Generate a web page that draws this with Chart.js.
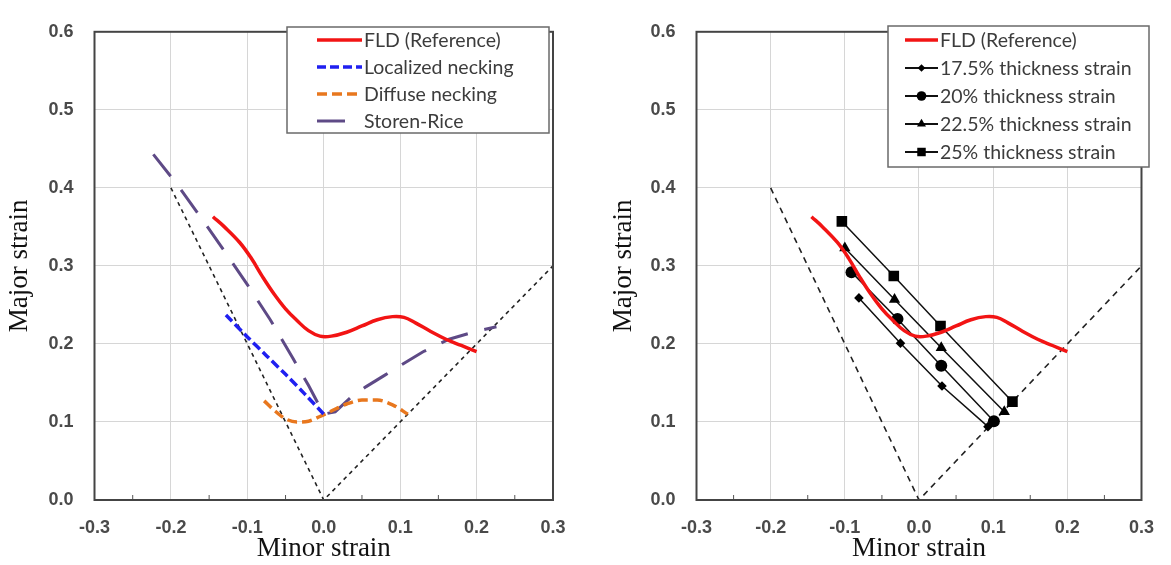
<!DOCTYPE html>
<html>
<head>
<meta charset="utf-8">
<script src="https://cdn.jsdelivr.net/npm/chart.js@4.4.1/dist/chart.umd.min.js"></script>
<style>
  body { margin: 0; background: #fff; }
  .box { position: absolute; top: 0; height: 565px; }
  #left { left: 0; width: 585px; }
  #right { left: 602px; width: 569px; }
</style>
</head>
<body>
<div class="box" id="left"><canvas id="chartL" width="585" height="565"></canvas></div>
<div class="box" id="right"><canvas id="chartR" width="569" height="565"></canvas></div>
<script>
// FLD reference curve (both panels)
const fldX = [-0.145, -0.13, -0.11, -0.095, -0.08, -0.065, -0.05, -0.035, -0.02, -0.005, 0.01, 0.03, 0.05, 0.07, 0.09, 0.105, 0.12, 0.14, 0.16, 0.18, 0.2]
const fldY = [0.363, 0.35, 0.33, 0.31, 0.286, 0.264, 0.245, 0.23, 0.217, 0.21, 0.21, 0.215, 0.223, 0.231, 0.235, 0.234, 0.227, 0.216, 0.206, 0.198, 0.19]

// left panel
const locX = [-0.128, -0.1, -0.075, -0.05, -0.025, 0.0]
const locY = [0.237, 0.209, 0.185, 0.161, 0.136, 0.11]
const difX = [-0.078, -0.065, -0.05, -0.035, -0.02, -0.005, 0.01, 0.03, 0.05, 0.07, 0.09, 0.11]
const difY = [0.127, 0.115, 0.104, 0.1, 0.101, 0.107, 0.114, 0.123, 0.128, 0.128, 0.122, 0.11]
const srX = [-0.223, -0.19, -0.16, -0.13, -0.1, -0.07, -0.04, -0.02, 0.0, 0.015, 0.035, 0.055, 0.08, 0.103, 0.13, 0.164, 0.195, 0.226]
const srY = [0.443, 0.402, 0.361, 0.319, 0.276, 0.231, 0.181, 0.147, 0.11, 0.113, 0.131, 0.145, 0.16, 0.174, 0.19, 0.206, 0.215, 0.222]

// right panel, thickness strain criteria
const t175X = [-0.081, -0.025, 0.031, 0.093]
const t175Y = [0.259, 0.201, 0.146, 0.094]
const t20X = [-0.091, -0.029, 0.03, 0.101]
const t20Y = [0.292, 0.232, 0.172, 0.101]
const t225X = [-0.1, -0.033, 0.03, 0.115]
const t225Y = [0.323, 0.257, 0.195, 0.113]
const t25X = [-0.104, -0.034, 0.029, 0.126]
const t25Y = [0.357, 0.287, 0.223, 0.126]

// dashed guide lines (uniaxial / plane strain / biaxial)
const guideX = [-0.2, 0.0, 0.3]
const guideY = [0.4, 0.0, 0.3]

const minorTicks = [-0.25, -0.15, -0.05, 0.05, 0.15, 0.25]

const pts = (xs, ys) => xs.map((x, i) => ({x: x, y: ys[i]}))
const fmt = v => Math.abs(v) < 1e-9 ? '0.0' : v.toFixed(1)

const tickFont = {family: "'Liberation Sans', Arial", size: 18, weight: 'bold'}
const titleFont = {family: "'Liberation Serif', 'Times New Roman'", size: 27, lineHeight: 1}

function scales(yTitlePad) {
  return {
    x: {
      type: 'linear', min: -0.3, max: 0.3,
      ticks: {stepSize: 0.1, padding: 17, color: '#4a4a4a', font: tickFont, callback: fmt},
      grid: {color: '#d6d6d6', drawTicks: false},
      border: {display: false},
      title: {display: true, text: 'Minor strain', color: '#111', font: titleFont, padding: {top: 0, bottom: 3}},
      afterFit: s => { s.height = 65 }
    },
    y: {
      min: 0, max: 0.6,
      ticks: {stepSize: 0.1, padding: 21, color: '#4a4a4a', font: tickFont, callback: fmt},
      grid: {color: '#d6d6d6', drawTicks: false},
      border: {display: false},
      title: {display: true, text: 'Major strain', color: '#111', font: titleFont, padding: {top: yTitlePad, bottom: 0}},
      afterFit: s => { s.width = 94.5 }
    }
  }
}

function drawMarker(ctx, style, x, y, r) {
  ctx.beginPath()
  if (style === 'circle') {
    ctx.arc(x, y, r, 0, Math.PI * 2)
  } else if (style === 'rect') {
    const h = r * Math.SQRT1_2
    ctx.rect(x - h, y - h, 2 * h, 2 * h)
  } else if (style === 'rectRot') {
    ctx.moveTo(x, y - r); ctx.lineTo(x + r, y); ctx.lineTo(x, y + r); ctx.lineTo(x - r, y); ctx.closePath()
  } else if (style === 'triangle') {
    ctx.moveTo(x, y - r); ctx.lineTo(x + r * 0.866, y + r * 0.5); ctx.lineTo(x - r * 0.866, y + r * 0.5); ctx.closePath()
  }
  ctx.fill()
}

// plot frame + small minor ticks on the minor-strain axis
const framePlugin = {
  id: 'frame',
  afterDatasetsDraw(chart) {
    const {ctx, chartArea: a} = chart
    const x = chart.scales.x
    ctx.save()
    ctx.strokeStyle = '#555'
    ctx.lineWidth = 1
    minorTicks.forEach(v => {
      const px = x.getPixelForValue(v)
      ctx.beginPath(); ctx.moveTo(px, a.bottom); ctx.lineTo(px, a.bottom - 5); ctx.stroke()
    })
    ctx.strokeStyle = '#444'
    ctx.lineWidth = 2
    ctx.strokeRect(a.left, a.top, a.right - a.left, a.bottom - a.top)
    ctx.restore()
  }
}

// boxed legend inside the plot, like the excel one
const boxLegend = {
  id: 'boxLegend',
  afterDraw(chart, args, o) {
    const ctx = chart.ctx
    ctx.save()
    ctx.fillStyle = '#fff'
    ctx.fillRect(o.left, o.top, o.width, o.height)
    ctx.strokeStyle = '#6a6a6a'
    ctx.lineWidth = 1.5
    ctx.strokeRect(o.left, o.top, o.width, o.height)
    ctx.font = o.font
    ctx.textBaseline = 'middle'
    let row = 0
    chart.data.datasets.forEach(ds => {
      if (!ds.label) return
      const y = o.firstRow + row * o.rowHeight
      ctx.strokeStyle = ds.borderColor
      ctx.lineWidth = Math.max(ds.borderWidth, 2)
      ctx.setLineDash(ds.borderDash || [])
      ctx.beginPath(); ctx.moveTo(o.lineStart, y); ctx.lineTo(o.lineEnd, y); ctx.stroke()
      ctx.setLineDash([])
      if (ds.pointRadius) {
        ctx.fillStyle = ds.pointBackgroundColor
        drawMarker(ctx, ds.pointStyle, (o.lineStart + o.lineEnd) / 2, y, ds.pointRadius * 0.8)
      }
      ctx.fillStyle = '#3c3c3c'
      ctx.fillText(ds.label, o.textX, y + 1)
      row++
    })
    ctx.restore()
  }
}

function guide(dash) {
  return {data: pts(guideX, guideY), showLine: true, borderColor: '#222', borderWidth: 1.6,
          borderDash: dash, pointRadius: 0, tension: 0}
}

function fld() {
  return {label: 'FLD (Reference)', data: pts(fldX, fldY), showLine: true, borderColor: '#f21414',
          borderWidth: 3.5, pointRadius: 0, tension: 0.4}
}

function marked(label, xs, ys, style, r) {
  return {label: label, data: pts(xs, ys), showLine: true, borderColor: '#111', borderWidth: 1.5,
          pointStyle: style, pointRadius: r, pointBackgroundColor: '#000', pointBorderColor: '#000',
          pointBorderWidth: 0, tension: 0}
}

new Chart(document.getElementById('chartL'), {
  type: 'scatter',
  data: {
    datasets: [
      fld(),
      {label: 'Localized necking', data: pts(locX, locY), showLine: true, borderColor: '#2020f0',
       borderWidth: 3.5, borderDash: [9, 4], pointRadius: 0, tension: 0.3},
      {label: 'Diffuse necking', data: pts(difX, difY), showLine: true, borderColor: '#e8771e',
       borderWidth: 3.5, borderDash: [10, 5], pointRadius: 0, cubicInterpolationMode: 'monotone'},
      {label: 'Storen-Rice', data: pts(srX, srY), showLine: true, borderColor: '#5e4a86',
       borderWidth: 3, borderDash: [28, 17], pointRadius: 0, tension: 0},
      guide([4, 4])
    ]
  },
  options: {
    responsive: false,
    animation: false,
    layout: {padding: {top: 20.5, right: 32, bottom: 0, left: 0}},
    scales: scales(6),
    plugins: {
      legend: {display: false},
      tooltip: {enabled: false},
      boxLegend: {left: 287, top: 27, width: 262, height: 106, firstRow: 40, rowHeight: 27,
                  lineStart: 317, lineEnd: 362, textX: 364, font: "19.5px Lato"}
    }
  },
  plugins: [framePlugin, boxLegend]
})

new Chart(document.getElementById('chartR'), {
  type: 'scatter',
  data: {
    datasets: [
      fld(),
      marked('17.5% thickness strain', t175X, t175Y, 'rectRot', 4.8),
      marked('20% thickness strain', t20X, t20Y, 'circle', 6),
      marked('22.5% thickness strain', t225X, t225Y, 'triangle', 6.5),
      marked('25% thickness strain', t25X, t25Y, 'rect', 7.5),
      guide([6, 5])
    ]
  },
  options: {
    responsive: false,
    animation: false,
    layout: {padding: {top: 20.5, right: 16, bottom: 0, left: 0}},
    scales: scales(8),
    plugins: {
      legend: {display: false},
      tooltip: {enabled: false},
      boxLegend: {left: 286, top: 26, width: 261, height: 141, firstRow: 40, rowHeight: 28,
                  lineStart: 303, lineEnd: 336, textX: 338, font: "19.5px Lato"}
    }
  },
  plugins: [framePlugin, boxLegend]
})
</script>
</body>
</html>
